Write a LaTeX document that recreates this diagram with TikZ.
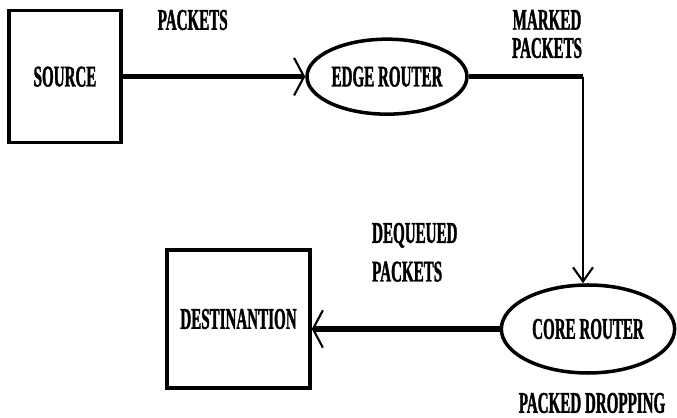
\documentclass[tikz,border=0pt]{standalone}
\usepackage{fontspec}
\setmainfont{Liberation Serif}[FakeStretch=0.5, BoldFeatures={FakeBold=1.2}]
\usetikzlibrary{arrows.meta}
\usetikzlibrary{shapes.geometric}

\begin{document}
\begin{tikzpicture}[font=\bfseries\fontsize{25.7}{24}\selectfont,
	box/.style={draw, line width=3pt, inner sep=0pt},
	router/.style={ellipse, draw, line width=3pt, inner sep=0pt},
	wide/.style={-{Straight Barb[length=8.5pt,width=32pt,line width=1.8pt]}},
	narrow/.style={-{Straight Barb[length=12pt,width=17pt,line width=1.8pt]}}]
\useasboundingbox (0,0) rectangle (20.31,-12.54);

	\node[box, minimum width=3.36cm, minimum height=3.96cm] (src) at (1.95,-2.3) {SOURCE};
	\node[router, minimum width=4.8cm, minimum height=2.25cm] (edge) at (11.61,-2.3) {EDGE ROUTER};
	\node[router, minimum width=5.2cm, minimum height=2.64cm] (core) at (17.64,-9.87) {CORE ROUTER};
	\node[box, minimum width=4.29cm, minimum height=4.14cm] (dst) at (7.155,-9.57) {DESTINANTION};
	
	\node (pk) at (5.78,-0.6) {PACKETS};
	\node[align=center] (mk) at (16.41,-1.02) {MARKED\\PACKETS};
	\node[align=left, anchor=west] (dq) at (11.04,-7.57) {DEQUEUED\\[9pt]PACKETS};
	\node (dr) at (17.76,-12.09) {PACKED DROPPING};
	
	\coordinate (bend) at ([xshift=-0.15cm]core.north |- edge.east);
	\draw[wide, line width=4.2pt] (src) -- (edge);
	\draw[line width=3.8pt] (edge.east) -- (bend);
	\draw[narrow, line width=2.2pt] (bend) -- (bend |- core.north);
	\draw[wide, line width=4.4pt] (core.west) -- (core.west -| dst.east);
\end{tikzpicture}
\end{document}
